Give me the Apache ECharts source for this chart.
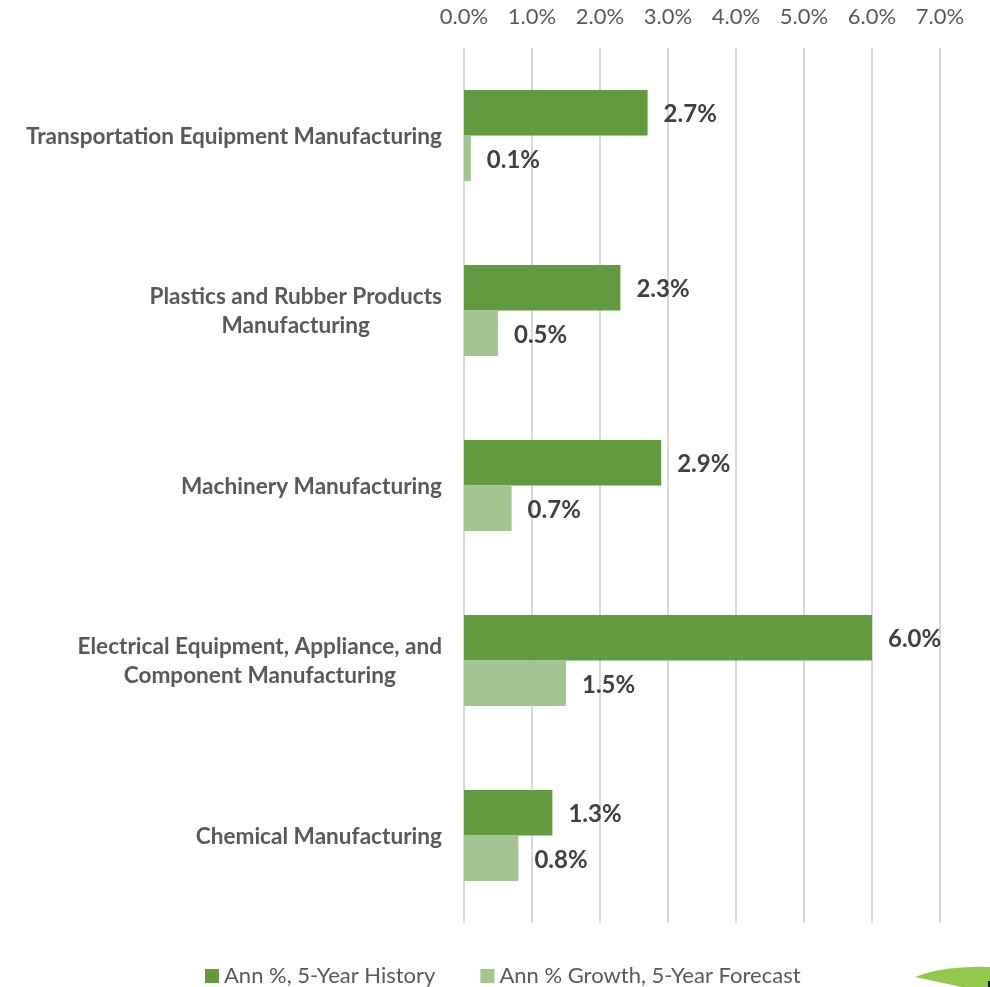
<!DOCTYPE html>
<html>
<head>
<meta charset="utf-8">
<style>html,body{margin:0;padding:0;background:#fff}#c{width:990px;height:987px}</style>
<script src="https://cdn.jsdelivr.net/npm/echarts@6/dist/echarts.min.js"></script>
</head>
<body>
<div id="c"></div>
<script>
const categories = [
  "Transportation Equipment Manufacturing",
  "Plastics and Rubber Products\nManufacturing",
  "Machinery Manufacturing",
  "Electrical Equipment, Appliance, and\nComponent Manufacturing",
  "Chemical Manufacturing"
];
const historyValues = [2.7, 2.3, 2.9, 6.0, 1.3];
const forecastValues = [0.1, 0.5, 0.7, 1.5, 0.8];
const seriesNames = ["Ann %, 5-Year History", "Ann % Growth, 5-Year Forecast"];
const fontFamily = "Lato, 'Open Sans', sans-serif";
const chart = echarts.init(document.getElementById('c'), null, {renderer: 'canvas'});
const dataLabel = {
  show: true, position: 'right', distance: 16, offset: [0, 2],
  formatter: p => p.value.toFixed(1) + '%',
  fontFamily, fontSize: 24, fontWeight: 'bold', color: '#404040'
};
chart.setOption({
  animation: false,
  backgroundColor: '#fff',
  grid: {left: 464, right: 50, top: 48, bottom: 64, containLabel: false},
  legend: {
    top: 960, left: 200, itemWidth: 14, itemHeight: 14, itemGap: 45,
    icon: 'rect', data: seriesNames,
    textStyle: {fontFamily, fontSize: 22, color: '#595959'}
  },
  xAxis: {
    type: 'value', position: 'top', min: 0, max: 7, interval: 1,
    axisLine: {show: false}, axisTick: {show: false},
    axisLabel: {formatter: v => v.toFixed(1) + '%', fontFamily, fontSize: 22, color: '#595959', margin: 20},
    splitLine: {show: true, lineStyle: {color: '#d9d9d9', width: 2}}
  },
  yAxis: {
    type: 'category', inverse: true, data: categories,
    axisLine: {show: false}, axisTick: {show: false},
    axisLabel: {
      margin: 22,
      padding: [2, 0, 0, 0],
      formatter: v => v.split('\n').map(l => '{c|' + l + '}').join('\n'),
      rich: {c: {align: 'center', fontFamily, fontSize: 22.6, fontWeight: 'bold', color: '#595959', lineHeight: 29}}
    }
  },
  series: [
    {name: seriesNames[0], type: 'bar', data: historyValues, barGap: '0%', barCategoryGap: '48%',
     itemStyle: {color: '#619a3f'}, label: dataLabel},
    {name: seriesNames[1], type: 'bar', data: forecastValues,
     itemStyle: {color: '#a3c58f'}, label: dataLabel}
  ],
  graphic: [{
    type: 'polygon', silent: true,
    shape: {points: [[915,977],[925,973.5],[937,970.5],[950,968.5],[965,967.2],[978,966.8],[990,967],[990,987],[962,987]]},
    style: {fill: '#92c84e'}
  }, {
    type: 'polygon', silent: true,
    shape: {points: [[988,981],[990,981],[990,987],[988,987]]},
    style: {fill: '#1a1a1a'}
  }]
});
</script>
</body>
</html>
